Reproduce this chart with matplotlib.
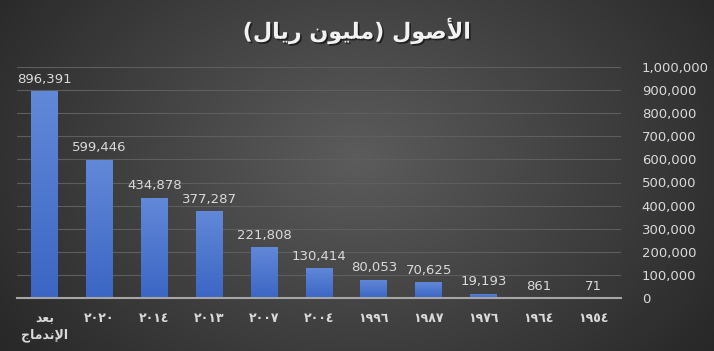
import numpy as np
import matplotlib
matplotlib.use("Agg")
import matplotlib.pyplot as plt
import matplotlib.patheffects as pe
from matplotlib.ticker import FuncFormatter

# Arabic text written as presentation forms in visual (left-to-right) order,
# since matplotlib does no shaping / bidi.
TITLE = "(\uFEDD\uFE8E\uFEF3\uFEAD \uFEE5\uFEEE\uFEF4\uFEE0\uFEE3) \uFEDD\uFEEE\uFEBB\uFEF7\uFE8D"
AFTER_MERGE = "\uFEAA\uFECC\uFE91\n\uFE9D\uFE8E\uFEE3\uFEAA\uFEE7\uFEF9\uFE8D"

categories = [AFTER_MERGE, "٢٠٢٠", "٢٠١٤", "٢٠١٣", "٢٠٠٧", "٢٠٠٤",
              "١٩٩٦", "١٩٨٧", "١٩٧٦", "١٩٦٤", "١٩٥٤"]
assets = [896391, 599446, 434878, 377287, 221808, 130414,
          80053, 70625, 19193, 861, 71]

W, H = 714, 351
fig = plt.figure(figsize=(W / 100, H / 100), dpi=100)

# radial dark background
bg = fig.add_axes([0, 0, 1, 1], zorder=0)
yy, xx = np.mgrid[0:H, 0:W]
r = np.sqrt(((xx - W * 0.5) / (W * 0.6)) ** 2 + ((yy - H * 0.45) / (H * 0.9)) ** 2)
shade = np.clip(0.36 - 0.2 * r, 0.14, 0.36)
bg.imshow(np.dstack([shade] * 3), aspect="auto", extent=[0, 1, 0, 1])
bg.axis("off")

ax = fig.add_axes([17 / W, 1 - 298 / H, (621 - 17) / W, (298 - 67) / H], zorder=1)
ax.patch.set_alpha(0)
x = np.arange(len(categories))
bars = ax.bar(x, assets, width=0.49, color="#4a74cc", zorder=3)

# light top-to-bottom gradient on each bar
grad = np.linspace(0, 1, 100).reshape(-1, 1)
cmap = matplotlib.colors.LinearSegmentedColormap.from_list("b", ["#3b66c4", "#6288d8"])
for b in bars:
    if b.get_height() <= 0:
        continue
    im = ax.imshow(grad, cmap=cmap, aspect="auto", origin="lower", zorder=3,
                   extent=[b.get_x(), b.get_x() + b.get_width(), 0, b.get_height()])
    im.set_clip_path(b)

for xi, v in zip(x, assets):
    ax.text(xi, v + 22000, f"{v:,}", ha="center", va="bottom",
            color="#d9d9d9", fontsize=9.5)

ax.set_xlim(-0.5, len(categories) - 0.5)
ax.set_ylim(0, 1000000)
ax.set_yticks(np.arange(0, 1000001, 100000))
ax.yaxis.set_major_formatter(FuncFormatter(lambda v, p: f"{int(v):,}"))
ax.yaxis.tick_right()
ax.tick_params(axis="y", length=0, pad=15, labelcolor="#d9d9d9", labelsize=9.5)
ax.set_xticks(x)
ax.set_xticklabels(categories, fontweight="bold", color="#d9d9d9", fontsize=9,
                   linespacing=1.3)
ax.tick_params(axis="x", length=0, pad=10)
ax.grid(axis="y", color="#5e5e5e", lw=0.8, zorder=0)
for s in ["top", "left", "right"]:
    ax.spines[s].set_visible(False)
ax.spines["bottom"].set_color("#a6a6a6")
ax.spines["bottom"].set_linewidth(1.5)
ax.spines["bottom"].set_zorder(4)

# title with a soft shadow
fig.text(0.5, 1 - 31 / H, TITLE, ha="center", va="center",
         fontsize=16, fontweight="bold", color="#f2f2f2",
         path_effects=[pe.SimplePatchShadow(offset=(1.2, -1.2), shadow_rgbFace="#111111",
                                            alpha=0.7), pe.Normal()])

fig.savefig("out.png", dpi=100)
